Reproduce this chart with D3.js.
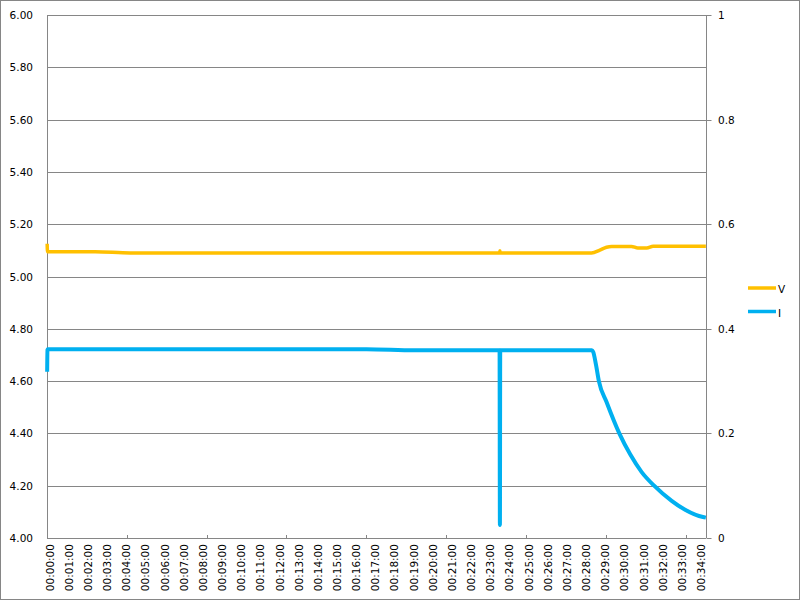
<!DOCTYPE html>
<html><head><meta charset="utf-8">
<script src="https://cdn.jsdelivr.net/npm/d3@7"></script>
<style>html,body{margin:0;padding:0;background:#fff;} svg{display:block;}</style>
</head><body>
<script>
// ---- data (time in seconds, one sample per second) ----
const vTime = [0, 1, 150, 260, 1417, 1418, 1419, 1705, 1731, 1752, 1768, 1830, 1850, 1878, 1898, 2063];
const vVal  = [5.125, 5.095, 5.095, 5.090, 5.090, 5.098, 5.090, 5.090, 5.101, 5.112, 5.115, 5.115, 5.109, 5.109, 5.116, 5.116];
const iTime = [0, 1, 2, 1000, 1150, 1417, 1418, 1419, 1706, 1710, 1719, 1728, 1752, 1792, 1826, 1862, 1901, 1956, 1998, 2054, 2063];
const iVal  = [0.318, 0.360, 0.361, 0.361, 0.359, 0.359, 0.025, 0.359, 0.359, 0.356, 0.331, 0.300, 0.260, 0.200, 0.160, 0.126, 0.100, 0.071, 0.054, 0.040, 0.039];
const nSamples = 2064;
const leftTicks = [4.0, 4.2, 4.4, 4.6, 4.8, 5.0, 5.2, 5.4, 5.6, 5.8, 6.0];
const rightTicks = [0, 0.2, 0.4, 0.6, 0.8, 1];
const minuteLabels = d3.range(0, 35).map(m => "00:" + String(m).padStart(2, "0") + ":00");
const seriesNames = ["V", "I"];
const seriesColors = ["#FFC000", "#00B0F0"];

const W = 800, H = 601;
const L = 47, R = 706, T = 15, B = 538;
const svg = d3.select("body").append("svg").attr("width", W).attr("height", H);
const font = "DejaVu Sans, Verdana, sans-serif";

svg.append("rect").attr("x", 0.5).attr("y", 0.5).attr("width", 799).attr("height", 599)
  .attr("fill", "#fff").attr("stroke", "#868686");

const x = d3.scaleLinear().domain([0, nSamples]).range([L, R]);
const yL = d3.scaleLinear().domain([4, 6]).range([B, T]);
const yR = d3.scaleLinear().domain([0, 1]).range([B, T]);

// gridlines
svg.append("g").selectAll("line").data(leftTicks).join("line")
  .attr("x1", L).attr("x2", R)
  .attr("y1", d => Math.round(yL(d)) + 0.5).attr("y2", d => Math.round(yL(d)) + 0.5)
  .attr("stroke", "#868686").attr("stroke-width", 1);

// left axis labels
svg.append("g").selectAll("text").data(leftTicks).join("text")
  .attr("x", 33).attr("y", d => yL(d)).attr("text-anchor", "end")
  .attr("dominant-baseline", "central").attr("font-family", font).attr("font-size", 10.5)
  .text(d => d.toFixed(2));

// right axis
const gR = svg.append("g").attr("transform", `translate(${R + 0.5},0)`);
gR.append("line").attr("x1", 0).attr("x2", 0).attr("y1", T).attr("y2", B).attr("stroke", "#868686");
gR.selectAll("line.t").data(rightTicks).join("line").attr("class", "t")
  .attr("x1", 0).attr("x2", 5)
  .attr("y1", d => Math.round(yR(d)) + 0.5).attr("y2", d => Math.round(yR(d)) + 0.5)
  .attr("stroke", "#868686");
gR.selectAll("text").data(rightTicks).join("text")
  .attr("x", 11.5).attr("y", d => yR(d)).attr("dominant-baseline", "central")
  .attr("font-family", font).attr("font-size", 10.5)
  .text(d => d3.format("~g")(d));

// left axis line
svg.append("line").attr("x1", L + 0.5).attr("x2", L + 0.5).attr("y1", T).attr("y2", B).attr("stroke", "#868686");
// bottom axis line + ticks
svg.append("line").attr("x1", L).attr("x2", R).attr("y1", B + 0.5).attr("y2", B + 0.5).attr("stroke", "#868686");
svg.append("g").selectAll("line").data(d3.range(250, nSamples, 250)).join("line")
  .attr("x1", d => Math.round(x(d)) + 0.5).attr("x2", d => Math.round(x(d)) + 0.5)
  .attr("y1", B - 3).attr("y2", B).attr("stroke", "#868686");

// bottom labels
svg.append("g").selectAll("text").data(minuteLabels).join("text")
  .attr("transform", (d, i) => `translate(${x(i * 60 + 0.5) + 2.5},${B + 6}) rotate(-90)`)
  .attr("text-anchor", "end").attr("dominant-baseline", "central")
  .attr("font-family", font).attr("font-size", 10.5)
  .text(d => d);

// series
const vData = vTime.map((t, i) => [t, vVal[i]]);
const iData = iTime.map((t, i) => [t, iVal[i]]);
const lineV = d3.line().curve(d3.curveMonotoneX).x(d => x(d[0] + 0.5)).y(d => yL(d[1]));
const lineI = d3.line().curve(d3.curveMonotoneX).x(d => x(d[0] + 0.5)).y(d => yR(d[1]));
svg.append("path").attr("d", lineV(vData)).attr("fill", "none")
  .attr("stroke", seriesColors[0]).attr("stroke-width", 3.5).attr("stroke-linejoin", "round");
svg.append("path").attr("d", lineI(iData)).attr("fill", "none")
  .attr("stroke", seriesColors[1]).attr("stroke-width", 4).attr("stroke-linejoin", "round");

// legend
const lg = svg.append("g");
seriesNames.forEach((n, i) => {
  const ly = 288 + i * 23.5;
  lg.append("line").attr("x1", 748).attr("x2", 776).attr("y1", ly).attr("y2", ly)
    .attr("stroke", seriesColors[i]).attr("stroke-width", 3.5);
  lg.append("text").attr("x", 778).attr("y", ly + 1).attr("dominant-baseline", "central")
    .attr("font-family", font).attr("font-size", 10.5).text(n);
});
</script>
</body></html>
